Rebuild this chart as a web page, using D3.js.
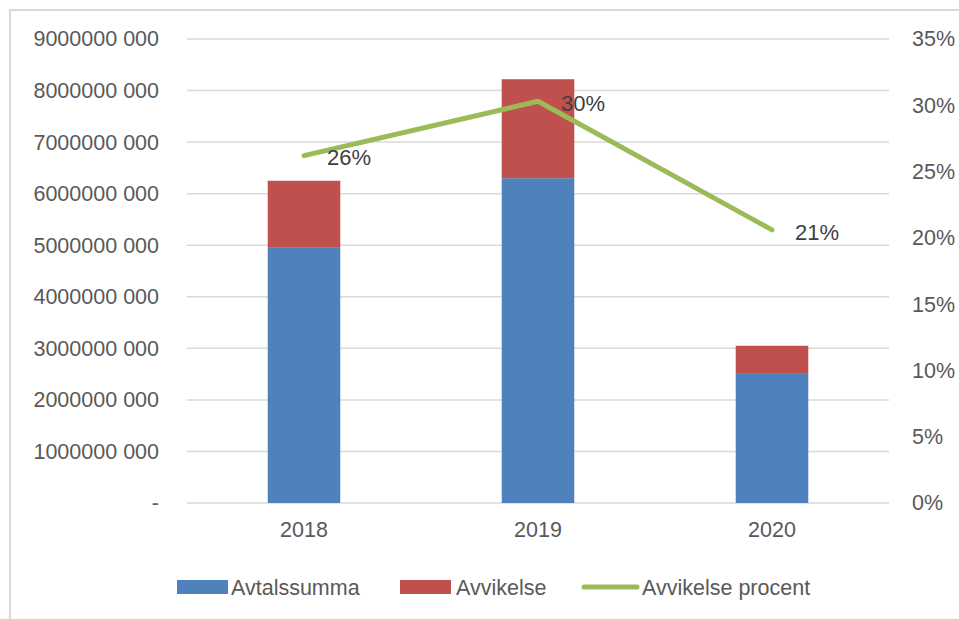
<!DOCTYPE html>
<html><head><meta charset="utf-8">
<script src="https://cdn.jsdelivr.net/npm/d3@7"></script>
<style>body{margin:0;background:#fff}svg{display:block}</style>
</head><body>
<svg id="c" width="959" height="619"></svg>
<script>
const years = ["2018", "2019", "2020"];
const avtalssumma = [4950000000, 6300000000, 2520000000];
const avvikelse = [1300000000, 1920000000, 530000000];
const avvikelseProcent = [0.262, 0.303, 0.206];
const pctLabels = ["26%", "30%", "21%"];
const leftTicks = [0, 1e9, 2e9, 3e9, 4e9, 5e9, 6e9, 7e9, 8e9, 9e9];
const rightTicks = [0, 0.05, 0.10, 0.15, 0.20, 0.25, 0.30, 0.35];
const seriesNames = ["Avtalssumma", "Avvikelse", "Avvikelse procent"];
const colors = ["#4F81BD", "#C0504D", "#9BBB59"];

const svg = d3.select("#c");
const font = "'Liberation Sans', Arial, sans-serif";
const fs = 21.5;
const L = 187, R = 889, T = 39, B = 503;

// frame
svg.append("rect").attr("x", 10).attr("y", 10).attr("width", 960).attr("height", 620)
  .attr("fill", "none").attr("stroke", "#D9D9D9").attr("stroke-width", 2);

const x = d3.scaleBand().domain(years).range([L, R]).paddingInner(0.69).paddingOuter(0.345);
const y = d3.scaleLinear().domain([0, 9e9]).range([B, T]);
const y2 = d3.scaleLinear().domain([0, 0.35]).range([B, T]);

// gridlines
svg.append("g").selectAll("line").data(leftTicks).join("line")
  .attr("x1", L).attr("x2", R).attr("y1", d => y(d)).attr("y2", d => y(d))
  .attr("stroke", "#D9D9D9").attr("stroke-width", 1.5);

// left axis
const yAxis = d3.axisLeft(y).tickValues(leftTicks).tickSize(0).tickPadding(28)
  .tickFormat(d => d === 0 ? "-" : (d / 1000) + " 000");
const gl = svg.append("g").attr("transform", `translate(${L},0)`).call(yAxis);
gl.select(".domain").remove();
gl.selectAll("text").attr("font-family", font).attr("font-size", fs).attr("fill", "#595959");

// right axis
const y2Axis = d3.axisRight(y2).tickValues(rightTicks).tickSize(0).tickPadding(23)
  .tickFormat(d => Math.round(d * 100) + "%");
const gr = svg.append("g").attr("transform", `translate(${R},0)`).call(y2Axis);
gr.select(".domain").remove();
gr.selectAll("text").attr("font-family", font).attr("font-size", fs).attr("fill", "#595959");

// x axis
const xAxis = d3.axisBottom(x).tickSize(0).tickPadding(19);
const gx = svg.append("g").attr("transform", `translate(0,${B})`).call(xAxis);
gx.select(".domain").remove();
gx.selectAll("text").attr("font-family", font).attr("font-size", fs).attr("fill", "#595959");

// bars
const stackData = years.map((yr, i) => ({year: yr, a: avtalssumma[i], b: avvikelse[i]}));
const stack = d3.stack().keys(["a", "b"])(stackData);
svg.append("g").selectAll("g").data(stack).join("g")
  .attr("fill", (d, i) => colors[i])
  .selectAll("rect").data(d => d).join("rect")
  .attr("x", d => x(d.data.year)).attr("width", x.bandwidth())
  .attr("y", d => y(d[1])).attr("height", d => y(d[0]) - y(d[1]));

// line
const line = d3.line().x((d, i) => x(years[i]) + x.bandwidth() / 2).y(d => y2(d));
svg.append("path").datum(avvikelseProcent).attr("d", line)
  .attr("fill", "none").attr("stroke", colors[2]).attr("stroke-width", 5)
  .attr("stroke-linecap", "round").attr("stroke-linejoin", "round");

// data labels
svg.append("g").selectAll("text").data(avvikelseProcent).join("text")
  .attr("x", (d, i) => x(years[i]) + x.bandwidth() / 2 + 23)
  .attr("y", d => y2(d) + 2).attr("dy", "0.35em")
  .attr("font-family", font).attr("font-size", 22).attr("fill", "#404040")
  .text((d, i) => pctLabels[i]);

// legend
const lg = svg.append("g");
const legendItems = [
  {name: seriesNames[0], c: colors[0], x: 177, type: "rect", tx: 54},
  {name: seriesNames[1], c: colors[1], x: 400, type: "rect", tx: 56},
  {name: seriesNames[2], c: colors[2], x: 584, type: "line", tx: 58}
];
const ly = 587;
legendItems.forEach(it => {
  if (it.type === "rect") {
    lg.append("rect").attr("x", it.x).attr("y", ly - 7).attr("width", 51).attr("height", 14).attr("fill", it.c);
  } else {
    lg.append("line").attr("x1", it.x).attr("x2", it.x + 53).attr("y1", ly).attr("y2", ly)
      .attr("stroke", it.c).attr("stroke-width", 5).attr("stroke-linecap", "round");
  }
  lg.append("text").attr("x", it.x + it.tx).attr("y", ly).attr("dy", "0.35em")
    .attr("font-family", font).attr("font-size", fs).attr("fill", "#595959").text(it.name);
});
</script>
</body></html>
